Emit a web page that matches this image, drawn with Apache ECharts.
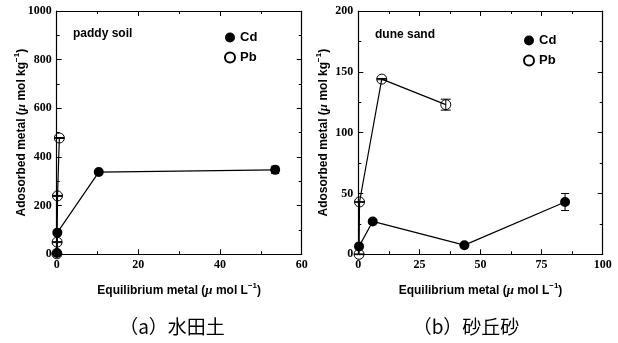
<!DOCTYPE html>
<html>
<head>
<meta charset="utf-8">
<script src="https://cdn.jsdelivr.net/npm/echarts@6/dist/echarts.min.js"></script>
<style>html,body{margin:0;padding:0;background:#fff}#c{width:618px;height:343px}</style>
</head>
<body>
<div id="c"></div>
<script>
// paddy soil (a)
const paddyCdX = [0.05, 0.15, 10.3, 53.5];
const paddyCdY = [5, 89, 338, 347];
const paddyCdErr = [0, 0, 0, 15];
const paddyPbX = [0.05, 0.1, 0.2, 0.65];
const paddyPbY = [2, 50, 240, 478];
const paddyPbErr = [2, 2, 2, 2];
// dune sand (b)
const duneCdX = [0.3, 5.9, 43.4, 84.6];
const duneCdY = [6.5, 27, 7.5, 43];
const duneCdErr = [0, 0, 0, 7];
const dunePbX = [0.3, 0.5, 9.6, 35.8];
const dunePbY = [0, 43, 144, 123];
const dunePbErr = [0.3, 0.3, 0.5, 4.5];

const panelTitles = ['paddy soil', 'dune sand'];
const captions = ['（a）水田土', '（b）砂丘砂'];
const xTicks = [{min: 0, max: 60, interval: 20}, {min: 0, max: 100, interval: 25}];
const yTicks = [{min: 0, max: 1000, interval: 200}, {min: 0, max: 200, interval: 50}];

const serif = '"Liberation Serif", "Times New Roman", serif';
const sans = '"Liberation Sans", Arial, sans-serif';

const zip = (xs, ys) => xs.map((x, i) => [x, ys[i]]);
const zip3 = (xs, ys, es) => xs.map((x, i) => [x, ys[i], es[i]]);

const richName = {
  mu: {fontFamily: serif, fontWeight: 'bold', fontStyle: 'italic', fontSize: 13, color: '#000', lineHeight: 18},
  sup: {fontFamily: sans, fontWeight: 'bold', fontSize: 8, color: '#000', verticalAlign: 'top', lineHeight: 8}
};
const nameStyle = {fontFamily: sans, fontWeight: 'bold', fontSize: 12, color: '#000', lineHeight: 18, rich: richName};

function axisCommon(show) {
  return {
    axisLine: {show: true, onZero: false, lineStyle: {color: '#000', width: 1.2}},
    axisTick: {show: true, inside: true, length: 5, lineStyle: {color: '#000', width: 1}},
    minorTick: {show: true, splitNumber: 2, length: 3, lineStyle: {color: '#000', width: 1}},
    splitLine: {show: false},
    axisLabel: show ? {fontFamily: serif, fontWeight: 'bold', fontSize: 12, color: '#000', margin: 5,
                       formatter: v => String(v)} : {show: false}
  };
}

const grids = [
  {left: 56.7, right: 316.3, top: 11, bottom: 88.7},
  {left: 358.3, right: 15.3, top: 11, bottom: 88.7}
];

const xAxes = [], yAxes = [];
for (let g = 0; g < 2; g++) {
  xAxes.push(Object.assign({type: 'value', gridIndex: g, position: 'bottom',
    name: 'Equilibrium metal ({mu|μ} mol L{sup|−1})', nameLocation: 'middle', nameGap: 27,
    nameMoveOverlap: false, nameTextStyle: nameStyle}, xTicks[g], axisCommon(true)));
  xAxes.push(Object.assign({type: 'value', gridIndex: g, position: 'top'}, xTicks[g], axisCommon(false)));
  yAxes.push(Object.assign({type: 'value', gridIndex: g, position: 'left',
    name: 'Adosorbed metal ({mu|μ} mol kg{sup|−1})', nameLocation: 'middle', nameGap: 26,
    nameMoveOverlap: false, nameTextStyle: nameStyle}, yTicks[g], axisCommon(true)));
  yAxes.push(Object.assign({type: 'value', gridIndex: g, position: 'right'}, yTicks[g], axisCommon(false)));
}

function lineSeries(name, data, g, open) {
  return {
    type: 'line', name: name, data: data, xAxisIndex: g * 2, yAxisIndex: g * 2,
    symbol: 'circle', symbolSize: 10, z: 3,
    lineStyle: {color: '#000', width: 1.2},
    itemStyle: open ? {color: 'rgba(255,255,255,0)', borderColor: '#000', borderWidth: 1}
                    : {color: '#000', borderColor: '#000', borderWidth: 0},
    emphasis: {disabled: true}, animation: false
  };
}
function errSeries(data, g, cap) {
  return {
    type: 'custom', xAxisIndex: g * 2, yAxisIndex: g * 2, data: data, z: 4, animation: false,
    renderItem: function (params, api) {
      const x = api.value(0), y = api.value(1), e = api.value(2);
      const t = api.coord([x, y + e]), b = api.coord([x, y - e]);
      const st = {stroke: '#000', lineWidth: 1};
      return {type: 'group', children: [
        {type: 'line', shape: {x1: t[0], y1: t[1], x2: b[0], y2: b[1]}, style: st},
        {type: 'line', shape: {x1: t[0] - cap, y1: t[1], x2: t[0] + cap, y2: t[1]}, style: st},
        {type: 'line', shape: {x1: b[0] - cap, y1: b[1], x2: b[0] + cap, y2: b[1]}, style: st}
      ]};
    }
  };
}

const series = [
  lineSeries('Cd', zip(paddyCdX, paddyCdY), 0, false),
  lineSeries('Pb', zip(paddyPbX, paddyPbY), 0, true),
  errSeries(zip3(paddyCdX, paddyCdY, paddyCdErr).filter(d => d[2] > 0), 0, 4),
  errSeries(zip3(paddyPbX, paddyPbY, paddyPbErr), 0, 5),
  lineSeries('Cd', zip(duneCdX, duneCdY), 1, false),
  lineSeries('Pb', zip(dunePbX, dunePbY), 1, true),
  errSeries(zip3(duneCdX, duneCdY, duneCdErr).filter(d => d[2] > 0), 1, 4),
  errSeries(zip3(dunePbX, dunePbY, dunePbErr), 1, 5)
];

const legendStyle = {fontFamily: sans, fontWeight: 'bold', fontSize: 13, color: '#000'};
const legends = [
  {left: 219, top: 26, orient: 'vertical', icon: 'circle', itemWidth: 10, itemHeight: 10, itemGap: 7,
   data: ['Cd', 'Pb'], textStyle: legendStyle, selectedMode: false},
  {left: 518, top: 29, orient: 'vertical', icon: 'circle', itemWidth: 10, itemHeight: 10, itemGap: 7,
   data: ['Cd', 'Pb'], textStyle: legendStyle, selectedMode: false}
];

const graphics = [
  {type: 'text', left: 73, top: 28, style: {text: panelTitles[0], font: 'bold 12px ' + sans, fill: '#000'}},
  {type: 'text', left: 375, top: 29, style: {text: panelTitles[1], font: 'bold 12px ' + sans, fill: '#000'}},
  {type: 'text', x: 172, y: 327, style: {text: captions[0], font: '19px "Noto Sans CJK JP"', fill: '#000', align: 'center', verticalAlign: 'middle'}},
  {type: 'text', x: 466, y: 327, style: {text: captions[1], font: '19px "Noto Sans CJK JP"', fill: '#000', align: 'center', verticalAlign: 'middle'}}
];

const chart = echarts.init(document.getElementById('c'), null, {renderer: 'canvas'});
chart.setOption({
  animation: false,
  backgroundColor: '#fff',
  grid: grids,
  xAxis: xAxes,
  yAxis: yAxes,
  legend: legends,
  series: series,
  graphic: graphics
});
</script>
</body>
</html>
